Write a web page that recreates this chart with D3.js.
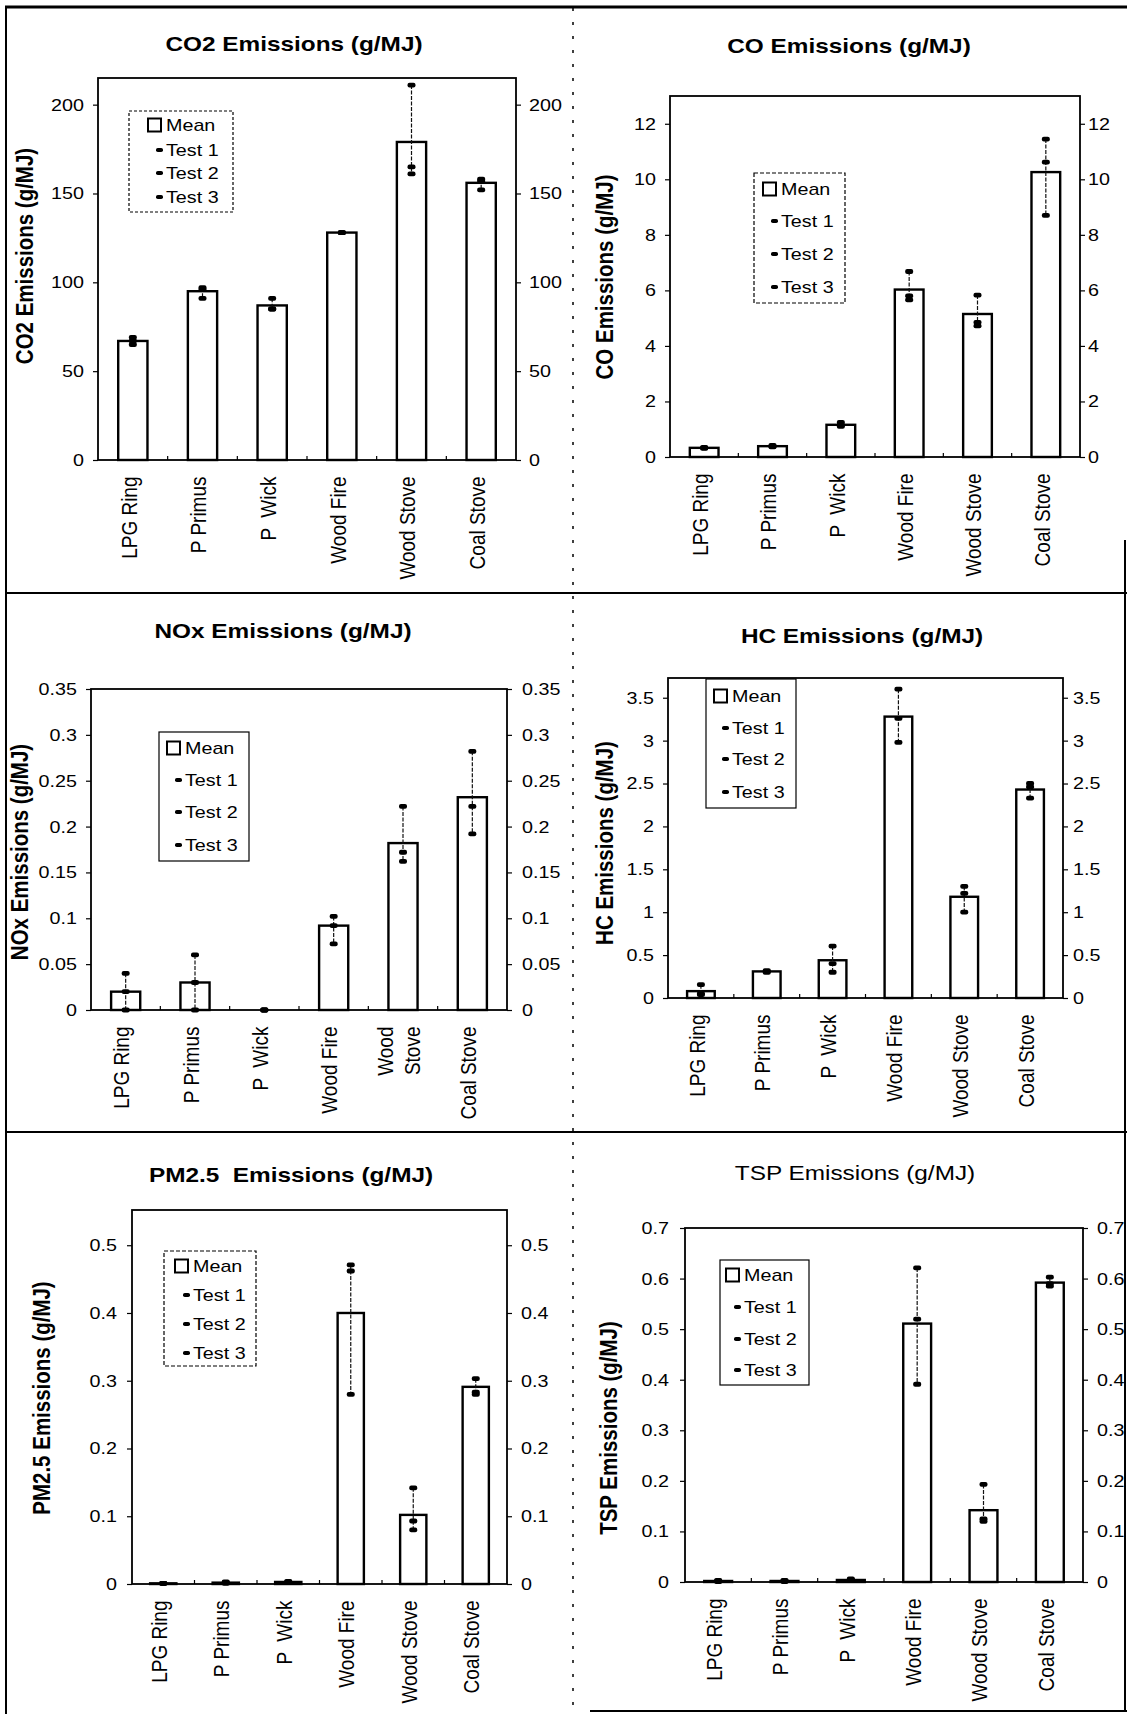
<!DOCTYPE html>
<html>
<head>
<meta charset="utf-8">
<script src="https://cdn.jsdelivr.net/npm/d3@7"></script>
<style>
body{margin:0;background:#fff;}
svg text{white-space:pre;}
</style>
</head>
<body>
<svg id="chart" width="1127" height="1714"></svg>
<script>
// ---------------- DATA ----------------
const categories = ["LPG Ring", "P Primus", "P  Wick", "Wood Fire", "Wood Stove", "Coal Stove"];
const noxCategoryLabels = ["LPG Ring", "P Primus", "P  Wick", "Wood Fire", "Wood\nStove", "Coal Stove"];
const legendLabels = ["Mean", "Test 1", "Test 2", "Test 3"];

const co2Mean  = [67, 95, 87, 128, 179, 156];
const co2Test1 = [69, 97, 91, 128, 211, 158];
const co2Test2 = [65, 91, 85, 128, 165, 157];
const co2Test3 = [67, 96, 85, 128, 161, 152];
const co2Ticks = [0, 50, 100, 150, 200];

const coMean  = [0.33, 0.39, 1.16, 6.03, 5.15, 10.26];
const coTest1 = [0.35, 0.42, 1.25, 6.68, 5.83, 11.45];
const coTest2 = [0.33, 0.38, 1.15, 5.80, 4.85, 10.62];
const coTest3 = [0.31, 0.37, 1.10, 5.66, 4.72, 8.70];
const coTicks = [0, 2, 4, 6, 8, 10, 12];

const noxMean  = [0.02, 0.03, 0, 0.092, 0.182, 0.232];
const noxTest1 = [0.04, 0.06, 0, 0.102, 0.222, 0.282];
const noxTest2 = [0.02, 0.03, 0, 0.092, 0.172, 0.222];
const noxTest3 = [0.0, 0.0, 0, 0.072, 0.162, 0.192];
const noxTicks = [0, 0.05, 0.1, 0.15, 0.2, 0.25, 0.3, 0.35];

const hcMean  = [0.08, 0.31, 0.44, 3.28, 1.18, 2.43];
const hcTest1 = [0.155, 0.32, 0.605, 3.60, 1.30, 2.50];
const hcTest2 = [0.05, 0.31, 0.40, 3.26, 1.22, 2.46];
const hcTest3 = [0.04, 0.30, 0.30, 2.98, 1.00, 2.33];
const hcTicks = [0, 0.5, 1, 1.5, 2, 2.5, 3, 3.5];

const pmMean  = [0.001, 0.002, 0.003, 0.40, 0.102, 0.291];
const pmTest1 = [0.001, 0.003, 0.004, 0.471, 0.142, 0.303];
const pmTest2 = [0.001, 0.002, 0.003, 0.462, 0.093, 0.283];
const pmTest3 = [0.001, 0.001, 0.002, 0.280, 0.080, 0.280];
const pmTicks = [0, 0.1, 0.2, 0.3, 0.4, 0.5];

const tspMean  = [0.002, 0.002, 0.004, 0.511, 0.142, 0.592];
const tspTest1 = [0.003, 0.003, 0.006, 0.621, 0.193, 0.603];
const tspTest2 = [0.002, 0.002, 0.004, 0.520, 0.125, 0.585];
const tspTest3 = [0.001, 0.001, 0.003, 0.391, 0.120, 0.590];
const tspTicks = [0, 0.1, 0.2, 0.3, 0.4, 0.5, 0.6, 0.7];

const axisMax = [215, 13, 0.35, 3.73, 0.552, 0.7];
const titles = ["CO2 Emissions (g/MJ)", "CO Emissions (g/MJ)", "NOx Emissions (g/MJ)",
                "HC Emissions (g/MJ)", "PM2.5  Emissions (g/MJ)", "TSP Emissions (g/MJ)"];
const yLabels = ["CO2 Emissions (g/MJ)", "CO Emissions (g/MJ)", "NOx Emissions (g/MJ)",
                 "HC Emissions (g/MJ)", "PM2.5 Emissions (g/MJ)", "TSP Emissions (g/MJ)"];

// ---------------- LAYOUT ----------------
const SX = 1.16;
const FONT = "'Liberation Sans', Arial, Helvetica, sans-serif";
const F = {title: 21, ylab: 20.5, tick: 17, cat: 19, legend: 17};
const svg = d3.select("#chart");

const panels = [
  {mean: co2Mean, tests: [co2Test1, co2Test2, co2Test3], ticks: co2Ticks, max: axisMax[0], title: titles[0], ylab: yLabels[0], cats: categories,
   L: 98, R: 516, T: 78, B: 460, lgap: 14, rgap: 13, tx: 294, ty: 51, bold: true, yx: 25, yy: 256,
   lg: {x0: 129, y0: 111, x1: 233, y1: 212, tx: 166, ys: [125, 150, 173, 197], dash: "3,2"}},
  {mean: coMean, tests: [coTest1, coTest2, coTest3], ticks: coTicks, max: axisMax[1], title: titles[1], ylab: yLabels[1], cats: categories,
   L: 670, R: 1080, T: 96, B: 457, lgap: 14, rgap: 8, tx: 849, ty: 53, bold: true, yx: 605, yy: 277,
   lg: {x0: 754, y0: 173, x1: 845, y1: 303, tx: 781, ys: [189, 221, 254, 287], dash: "4,2"}},
  {mean: noxMean, tests: [noxTest1, noxTest2, noxTest3], ticks: noxTicks, max: axisMax[2], title: titles[2], ylab: yLabels[2], cats: noxCategoryLabels,
   L: 91, R: 507, T: 689, B: 1010, lgap: 14, rgap: 15, tx: 283, ty: 638, bold: true, yx: 20, yy: 852,
   lg: {x0: 159, y0: 732, x1: 249, y1: 861, tx: 185, ys: [748, 780, 812, 845], dash: null}},
  {mean: hcMean, tests: [hcTest1, hcTest2, hcTest3], ticks: hcTicks, max: axisMax[3], title: titles[3], ylab: yLabels[3], cats: categories,
   L: 668, R: 1063, T: 678, B: 998, lgap: 14, rgap: 10, tx: 862, ty: 643, bold: true, yx: 605, yy: 843,
   lg: {x0: 706, y0: 679, x1: 796, y1: 808, tx: 732, ys: [696, 728, 759, 792], dash: null}},
  {mean: pmMean, tests: [pmTest1, pmTest2, pmTest3], ticks: pmTicks, max: axisMax[4], title: titles[4], ylab: yLabels[4], cats: categories,
   L: 132, R: 507, T: 1210, B: 1584, lgap: 15, rgap: 14, tx: 291, ty: 1182, bold: true, yx: 42, yy: 1398,
   lg: {x0: 164, y0: 1251, x1: 256, y1: 1366, tx: 193, ys: [1266, 1295, 1324, 1353], dash: "4,2"}},
  {mean: tspMean, tests: [tspTest1, tspTest2, tspTest3], ticks: tspTicks, max: axisMax[5], title: titles[5], ylab: yLabels[5], cats: categories,
   L: 685, R: 1083, T: 1228, B: 1582, lgap: 16, rgap: 14, tx: 855, ty: 1180, bold: false, yx: 609, yy: 1428,
   lg: {x0: 720, y0: 1260, x1: 809, y1: 1385, tx: 744, ys: [1275, 1307, 1339, 1370], dash: null}}
];

function addText(parent, x, y, str, o) {
  return parent.append("text")
    .attr("transform", `translate(${x},${y}) scale(${SX},1)` + (o.rotate ? " rotate(-90)" : ""))
    .attr("text-anchor", o.anchor || "start")
    .attr("dy", o.dy || 0)
    .attr("font-size", o.size)
    .attr("font-weight", o.bold ? "bold" : "normal")
    .attr("font-family", FONT)
    .attr("fill", "#000")
    .text(str);
}

// ---------------- PAGE FRAME ----------------
const frame = svg.append("g").attr("stroke", "#000").attr("fill", "none");
frame.append("line").attr("x1", 5).attr("x2", 1127).attr("y1", 7).attr("y2", 7).attr("stroke-width", 3);
frame.append("line").attr("x1", 6).attr("x2", 6).attr("y1", 6).attr("y2", 1714).attr("stroke-width", 2);
frame.append("line").attr("x1", 1125).attr("x2", 1125).attr("y1", 540).attr("y2", 1712).attr("stroke-width", 2);
frame.append("line").attr("x1", 6).attr("x2", 1127).attr("y1", 593).attr("y2", 593).attr("stroke-width", 2);
frame.append("line").attr("x1", 6).attr("x2", 1127).attr("y1", 1132).attr("y2", 1132).attr("stroke-width", 2);
frame.append("line").attr("x1", 590).attr("x2", 1127).attr("y1", 1711).attr("y2", 1711).attr("stroke-width", 2);
frame.append("line").attr("x1", 573).attr("x2", 573).attr("y1", 8).attr("y2", 1714)
  .attr("stroke-width", 1.5).attr("stroke-dasharray", "3,11");

// ---------------- PANELS ----------------
panels.forEach(p => {
  const n = categories.length;
  const x = d3.scaleBand().domain(d3.range(n)).range([p.L, p.R]).paddingInner(0.58).paddingOuter(0.29);
  const y = d3.scaleLinear().domain([0, p.max]).range([p.B, p.T]);
  const g = svg.append("g");
  const cx = i => x(i) + x.bandwidth() / 2;

  // bars (means)
  g.selectAll(null).data(p.mean).join("rect")
    .attr("x", (d, i) => x(i)).attr("y", d => y(d))
    .attr("width", x.bandwidth()).attr("height", d => p.B - y(d))
    .attr("fill", "#fff").attr("stroke", "#000").attr("stroke-width", 2.4);

  // plot frame
  g.append("rect").attr("x", p.L).attr("y", p.T).attr("width", p.R - p.L).attr("height", p.B - p.T)
    .attr("fill", "none").attr("stroke", "#000").attr("stroke-width", 1.8);

  // minor x ticks between categories
  g.selectAll(null).data(d3.range(1, n)).join("line")
    .attr("x1", k => x(k) - x.step() * x.paddingInner() / 2)
    .attr("x2", k => x(k) - x.step() * x.paddingInner() / 2)
    .attr("y1", p.B).attr("y2", p.B - 4).attr("stroke", "#000").attr("stroke-width", 1.2);

  // high-low line across tests
  g.selectAll(null).data(d3.range(n)).join("line")
    .attr("x1", cx).attr("x2", cx)
    .attr("y1", i => y(d3.max(p.tests, t => t[i])))
    .attr("y2", i => y(d3.min(p.tests, t => t[i])))
    .attr("stroke", "#111").attr("stroke-width", 1.2).attr("stroke-dasharray", "4,1.5");

  // test markers
  p.tests.forEach(t => {
    g.selectAll(null).data(t).join("rect")
      .attr("x", (d, i) => cx(i) - 4).attr("y", d => y(d) - 2.4)
      .attr("width", 8).attr("height", 4.8).attr("rx", 2)
      .attr("fill", "#000");
  });

  // left axis
  const gl = g.append("g").attr("transform", `translate(${p.L},0)`)
    .call(d3.axisLeft(y).tickValues(p.ticks).tickSize(5).tickFormat(d3.format("~g")));
  gl.select(".domain").remove();
  gl.attr("font-size", null).attr("font-family", null);
  gl.selectAll(".tick line").attr("stroke", "#000").attr("stroke-width", 1.2);
  gl.selectAll(".tick text").attr("x", null)
    .attr("transform", `translate(${-p.lgap},0) scale(${SX},1)`)
    .attr("font-size", F.tick).attr("font-family", FONT).attr("fill", "#000");

  // right axis
  const gr = g.append("g").attr("transform", `translate(${p.R},0)`)
    .call(d3.axisRight(y).tickValues(p.ticks).tickSize(5).tickFormat(d3.format("~g")));
  gr.select(".domain").remove();
  gr.attr("font-size", null).attr("font-family", null);
  gr.selectAll(".tick line").attr("stroke", "#000").attr("stroke-width", 1.2);
  gr.selectAll(".tick text").attr("x", null)
    .attr("transform", `translate(${p.rgap},0) scale(${SX},1)`)
    .attr("font-size", F.tick).attr("font-family", FONT).attr("fill", "#000");

  // category labels
  p.cats.forEach((c, i) => {
    const lines = c.split("\n");
    lines.forEach((ln, k) => {
      const off = (k - (lines.length - 1) / 2) * 27;
      addText(g, cx(i) - 4 + off, p.B + 16.5, ln, {rotate: true, anchor: "end", dy: "0.35em", size: F.cat});
    });
  });

  // title
  addText(g, p.tx, p.ty, p.title, {anchor: "middle", size: F.title, bold: p.bold});

  // y label
  addText(g, p.yx, p.yy, p.ylab, {rotate: true, anchor: "middle", dy: "0.35em", size: F.ylab, bold: true});

  // legend
  const lg = p.lg;
  const lgr = g.append("rect").attr("x", lg.x0).attr("y", lg.y0)
    .attr("width", lg.x1 - lg.x0).attr("height", lg.y1 - lg.y0)
    .attr("fill", "#fff").attr("stroke", "#000").attr("stroke-width", 1.2);
  if (lg.dash) lgr.attr("stroke-dasharray", lg.dash);
  legendLabels.forEach((lab, k) => {
    const yy = lg.ys[k];
    if (k === 0) {
      g.append("rect").attr("x", lg.tx - 18).attr("y", yy - 6.5).attr("width", 13).attr("height", 13)
        .attr("fill", "#fff").attr("stroke", "#000").attr("stroke-width", 2);
    } else {
      g.append("rect").attr("x", lg.tx - 10).attr("y", yy - 2).attr("width", 7).attr("height", 4)
        .attr("rx", 1.8).attr("fill", "#000");
    }
    addText(g, lg.tx, yy, lab, {anchor: "start", dy: "0.35em", size: F.legend});
  });
});
</script>
</body>
</html>
